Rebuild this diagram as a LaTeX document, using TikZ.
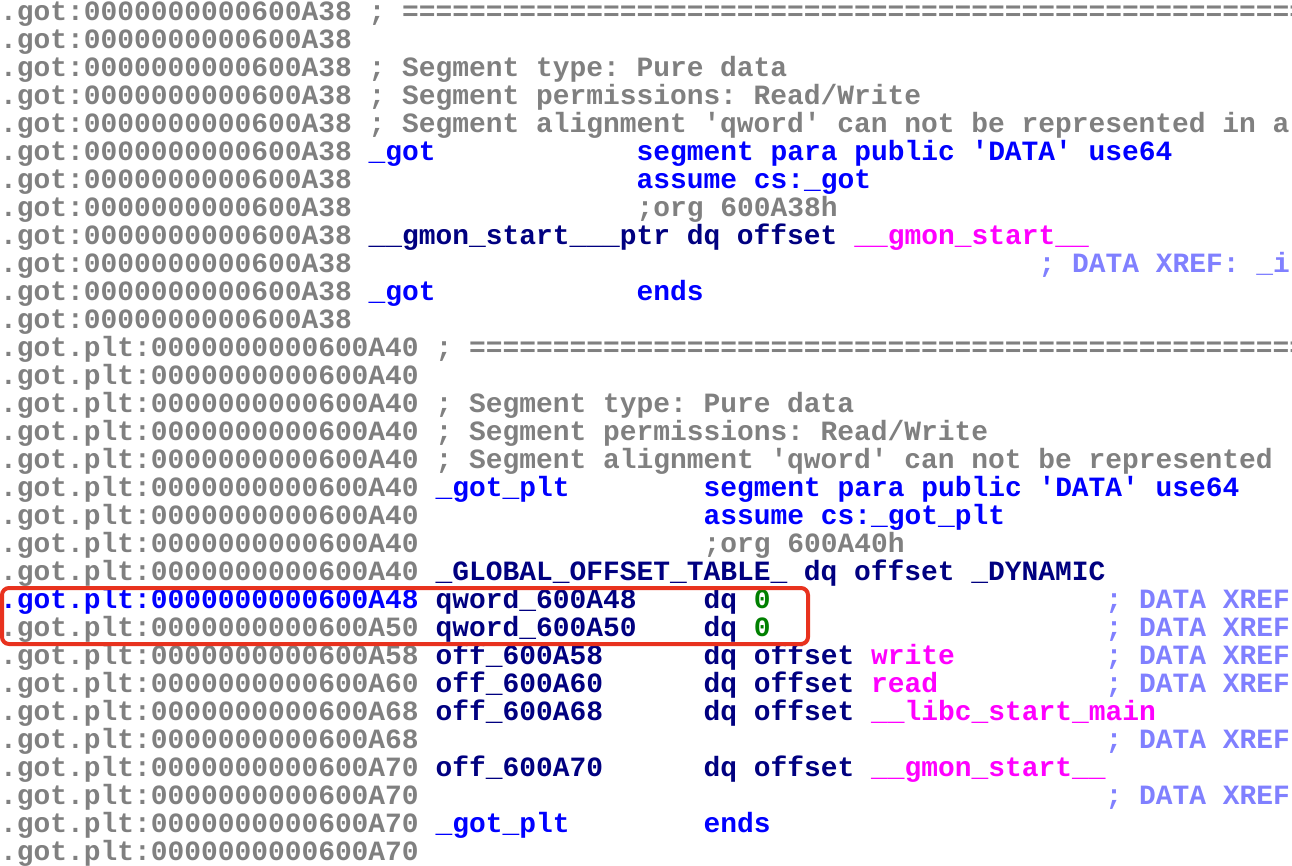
\documentclass[tikz,border=0pt]{standalone}
\usepackage{fontspec}
\setmonofont{Liberation Mono Bold}
\definecolor{addr}{HTML}{808080}
\definecolor{navy}{HTML}{000080}
\definecolor{kw}{HTML}{0000FF}
\definecolor{mag}{HTML}{FF00FF}
\definecolor{xref}{HTML}{8080FF}
\definecolor{grn}{HTML}{008000}
\definecolor{boxred}{HTML}{E8321E}
\tikzset{txt/.style={anchor=base west,inner sep=0pt,font=\ttfamily\fontsize{27.9}{28}\selectfont}}
\newcommand\R[4]{\node[txt,text=#3] (r#2c#1) at ({#1*16.75pt},{-(20.5+28*#2)*1pt}) {#4};}
\def\EQ{==============================================================}
\begin{document}
\begin{tikzpicture}
\useasboundingbox (0,0) rectangle (1292pt,-866pt);
\fill[white] (0,0) rectangle (1292pt,-866pt);
\clip (0,0) rectangle (1292pt,-866pt);
% .got
\foreach \i in {0,...,11}{\R{0}{\i}{addr}{.got:0000000000600A38}}
\R{22}{0}{addr}{; \EQ}
\R{22}{2}{addr}{; Segment type: Pure data}
\R{22}{3}{addr}{; Segment permissions: Read/Write}
\R{22}{4}{addr}{; Segment alignment 'qword' can not be represented in a}
\R{22}{5}{kw}{\_got}
\R{38}{5}{kw}{segment para public 'DATA' use64}
\R{38}{6}{kw}{assume cs:\_got}
\R{38}{7}{addr}{;org 600A38h}
\R{22}{8}{navy}{\_\_gmon\_start\_\_\_ptr dq offset}
\R{51}{8}{mag}{\_\_gmon\_start\_\_}
\R{62}{9}{xref}{; DATA XREF: \_i}
\R{22}{10}{kw}{\_got}
\R{38}{10}{kw}{ends}
% .got.plt
\foreach \i/\a in {12/40,13/40,14/40,15/40,16/40,17/40,18/40,19/40,20/40,22/50,23/58,24/60,25/68,26/68,27/70,28/70,29/70,30/70}{\R{0}{\i}{addr}{.got.plt:0000000000600A\a}}
\R{0}{21}{kw}{.got.plt:0000000000600A48}
\R{26}{12}{addr}{; \EQ}
\R{26}{14}{addr}{; Segment type: Pure data}
\R{26}{15}{addr}{; Segment permissions: Read/Write}
\R{26}{16}{addr}{; Segment alignment 'qword' can not be represented}
\R{26}{17}{kw}{\_got\_plt}
\R{42}{17}{kw}{segment para public 'DATA' use64}
\R{42}{18}{kw}{assume cs:\_got\_plt}
\R{42}{19}{addr}{;org 600A40h}
\R{26}{20}{navy}{\_GLOBAL\_OFFSET\_TABLE\_ dq offset \_DYNAMIC}
\R{26}{21}{navy}{qword\_600A48}
\R{42}{21}{navy}{dq}
\R{45}{21}{grn}{0}
\R{66}{21}{xref}{; DATA XREF}
\R{26}{22}{navy}{qword\_600A50}
\R{42}{22}{navy}{dq}
\R{45}{22}{grn}{0}
\R{66}{22}{xref}{; DATA XREF}
\R{26}{23}{navy}{off\_600A58}
\R{42}{23}{navy}{dq offset}
\R{52}{23}{mag}{write}
\R{66}{23}{xref}{; DATA XREF}
\R{26}{24}{navy}{off\_600A60}
\R{42}{24}{navy}{dq offset}
\R{52}{24}{mag}{read}
\R{66}{24}{xref}{; DATA XREF}
\R{26}{25}{navy}{off\_600A68}
\R{42}{25}{navy}{dq offset}
\R{52}{25}{mag}{\_\_libc\_start\_main}
\R{66}{26}{xref}{; DATA XREF}
\R{26}{27}{navy}{off\_600A70}
\R{42}{27}{navy}{dq offset}
\R{52}{27}{mag}{\_\_gmon\_start\_\_}
\R{66}{28}{xref}{; DATA XREF}
\R{26}{29}{kw}{\_got\_plt}
\R{42}{29}{kw}{ends}
\draw[boxred,line width=4pt,rounded corners=7pt] (2pt,-588pt) rectangle (808pt,-644pt);
\end{tikzpicture}
\end{document}
